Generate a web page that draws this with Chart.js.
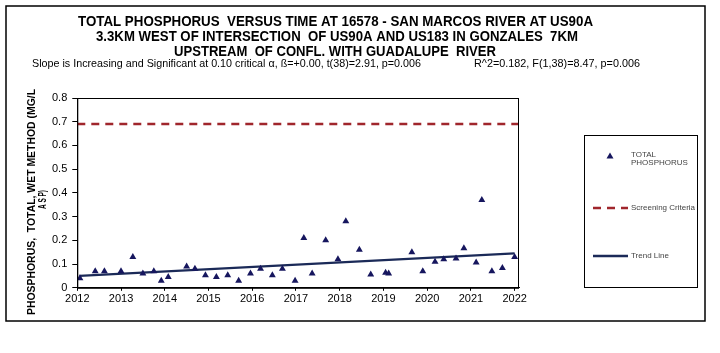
<!DOCTYPE html>
<html>
<head>
<meta charset="utf-8">
<script src="https://cdn.jsdelivr.net/npm/chart.js@4.4.1/dist/chart.umd.min.js"></script>
<style>
  html, body { margin: 0; padding: 0; background: #fff; }
  #wrap { width: 720px; height: 353px; }
</style>
</head>
<body>
<div id="wrap"><canvas id="myChart" width="720" height="353"></canvas></div>
<script>
// sample dates (decimal years) and total phosphorus (mg/L as P)
var sampleYears = [2012.06, 2012.41, 2012.62, 2013.0, 2013.27, 2013.5, 2013.75, 2013.92, 2014.08, 2014.5,
  2014.69, 2014.93, 2015.18, 2015.44, 2015.69, 2015.96, 2016.19, 2016.46, 2016.69, 2016.98,
  2017.18, 2017.37, 2017.68, 2017.96, 2018.14, 2018.45, 2018.71, 2019.05, 2019.12, 2019.65,
  2019.9, 2020.18, 2020.38, 2020.66, 2020.84, 2021.12, 2021.25, 2021.48, 2021.72, 2022.0];
var phosphorus = [0.04, 0.07, 0.07, 0.07, 0.13, 0.06, 0.07, 0.03, 0.045, 0.09,
  0.08, 0.053, 0.045, 0.053, 0.03, 0.06, 0.08, 0.053, 0.08, 0.03,
  0.21, 0.06, 0.20, 0.12, 0.28, 0.16, 0.056, 0.063, 0.06, 0.15,
  0.07, 0.11, 0.12, 0.124, 0.167, 0.107, 0.37, 0.07, 0.083, 0.13];
var screeningYears = [2012, 2022.1];
var screeningLevel = 0.69;
var trendYears = [2012.05, 2022];
var trendValues = [0.05, 0.145];
var xTicks = [2012, 2013, 2014, 2015, 2016, 2017, 2018, 2019, 2020, 2021, 2022];
var yTicks = [0, 0.1, 0.2, 0.3, 0.4, 0.5, 0.6, 0.7, 0.8];

var titleLines = [
  'TOTAL PHOSPHORUS  VERSUS TIME AT 16578 - SAN MARCOS RIVER AT US90A',
  '3.3KM WEST OF INTERSECTION  OF US90A AND US183 IN GONZALES  7KM',
  'UPSTREAM  OF CONFL. WITH GUADALUPE  RIVER'
];
var subLeft = 'Slope is Increasing and Significant at 0.10 critical \u03b1, \u00df=+0.00, t(38)=2.91, p=0.006';
var subRight = 'R^2=0.182, F(1,38)=8.47, p=0.006';
var yTitle = ['PHOSPHORUS,  TOTAL, WET METHOD (MG/L', 'A S P)'];

var markColor = '#16165e';
var dashColor = '#a0262c';
var trendColor = '#1b2a58';

function pairs(xs, ys) {
  var out = [];
  for (var i = 0; i < xs.length; i++) out.push({x: xs[i], y: ys[i]});
  return out;
}

// squeeze text horizontally to a given width
function fitText(ctx, text, x, y, width, font) {
  ctx.save();
  ctx.font = font;
  var w = ctx.measureText(text).width;
  ctx.translate(x, y);
  ctx.scale(width / w, 1);
  ctx.fillText(text, 0, 0);
  ctx.restore();
}

var decor = {
  id: 'decor',
  beforeDraw: function(chart) {
    var ctx = chart.ctx;
    ctx.save();
    ctx.fillStyle = '#fff';
    ctx.fillRect(0, 0, chart.width, chart.height);
    ctx.strokeStyle = '#000';
    ctx.lineWidth = 1.5;
    ctx.strokeRect(6, 6, 699, 315);
    ctx.restore();
  },
  afterDraw: function(chart) {
    var ctx = chart.ctx;
    var a = chart.chartArea;
    ctx.save();
    ctx.strokeStyle = '#000';
    ctx.lineWidth = 1;
    ctx.strokeRect(a.left + 0.5, a.top + 0.5, a.right - a.left - 1, a.bottom - a.top);

    ctx.fillStyle = '#000';
    ctx.textBaseline = 'middle';
    fitText(ctx, titleLines[0], 78, 22, 515, 'bold 15px "Liberation Sans"');
    fitText(ctx, titleLines[1], 96, 37, 482, 'bold 15px "Liberation Sans"');
    fitText(ctx, titleLines[2], 174, 52, 322, 'bold 15px "Liberation Sans"');
    fitText(ctx, subLeft, 32, 64, 389, '10.5px "Liberation Sans"');
    fitText(ctx, subRight, 474, 64, 166, '10.5px "Liberation Sans"');

    // y axis title
    ctx.save();
    ctx.translate(32, 315);
    ctx.rotate(-Math.PI / 2);
    fitText(ctx, yTitle[0], 0, 0, 226, 'bold 11px "Liberation Sans"');
    ctx.restore();
    ctx.save();
    ctx.translate(43, 209);
    ctx.rotate(-Math.PI / 2);
    fitText(ctx, yTitle[1], 0, 0, 19, 'bold 11px "Liberation Sans"');
    ctx.restore();

    // legend box
    ctx.strokeStyle = '#000';
    ctx.lineWidth = 1;
    ctx.strokeRect(584.5, 135.5, 113, 152);
    ctx.fillStyle = markColor;
    ctx.beginPath();
    ctx.moveTo(610, 152.5);
    ctx.lineTo(613.5, 158.5);
    ctx.lineTo(606.5, 158.5);
    ctx.closePath();
    ctx.fill();
    ctx.fillStyle = '#444';
    ctx.font = '8px "Liberation Sans"';
    ctx.textBaseline = 'middle';
    ctx.fillText('TOTAL', 631, 155);
    ctx.fillText('PHOSPHORUS', 631, 163);
    ctx.fillText('Screening Criteria', 631, 208);
    ctx.fillText('Trend Line', 631, 256);
    ctx.lineWidth = 2.5;
    ctx.strokeStyle = dashColor;
    ctx.setLineDash([8, 6]);
    ctx.beginPath();
    ctx.moveTo(593, 208);
    ctx.lineTo(628, 208);
    ctx.stroke();
    ctx.setLineDash([]);
    ctx.strokeStyle = trendColor;
    ctx.beginPath();
    ctx.moveTo(593, 256);
    ctx.lineTo(628, 256);
    ctx.stroke();
    ctx.restore();
  }
};

var chartdata = {
  datasets: [
    {
      label: 'TOTAL PHOSPHORUS',
      type: 'scatter',
      data: pairs(sampleYears, phosphorus),
      pointStyle: 'triangle',
      pointRadius: 4,
      backgroundColor: markColor,
      borderColor: markColor,
      borderWidth: 0,
      order: 1
    },
    {
      label: 'Screening Criteria',
      type: 'line',
      data: pairs(screeningYears, [screeningLevel, screeningLevel]),
      borderColor: dashColor,
      borderWidth: 2.5,
      borderDash: [8, 6],
      pointRadius: 0,
      order: 2
    },
    {
      label: 'Trend Line',
      type: 'line',
      data: pairs(trendYears, trendValues),
      borderColor: trendColor,
      borderWidth: 2.2,
      pointRadius: 0,
      order: 3
    }
  ]
};

var options = {
  responsive: false,
  animation: false,
  layout: { padding: { left: 47, top: 98, right: 201, bottom: 45 } },
  plugins: { legend: { display: false }, tooltip: { enabled: false } },
  scales: {
    x: {
      type: 'linear',
      min: 2012,
      max: 2022.1,
      afterBuildTicks: function(axis) {
        axis.ticks = xTicks.map(function(v) { return {value: v}; });
      },
      ticks: {
        color: '#000',
        font: { family: '"Liberation Sans"', size: 11 },
        padding: 2,
        maxRotation: 0,
        callback: function(v) { return String(v); }
      },
      grid: { drawOnChartArea: false, drawTicks: true, tickLength: 3, color: '#000' },
      border: { display: true, color: '#000' }
    },
    y: {
      min: 0,
      max: 0.8,
      afterBuildTicks: function(axis) {
        axis.ticks = yTicks.map(function(v) { return {value: v}; });
      },
      ticks: {
        color: '#000',
        font: { family: '"Liberation Sans"', size: 11 },
        padding: 5,
        callback: function(v) { return v === 0 ? '0' : v.toFixed(1); }
      },
      grid: { drawOnChartArea: false, drawTicks: true, tickLength: 5, color: '#000' },
      border: { display: true, color: '#000' }
    }
  }
};

var graph = new Chart(document.getElementById('myChart'), {
  type: 'scatter',
  data: chartdata,
  options: options,
  plugins: [decor]
});
</script>
</body>
</html>
